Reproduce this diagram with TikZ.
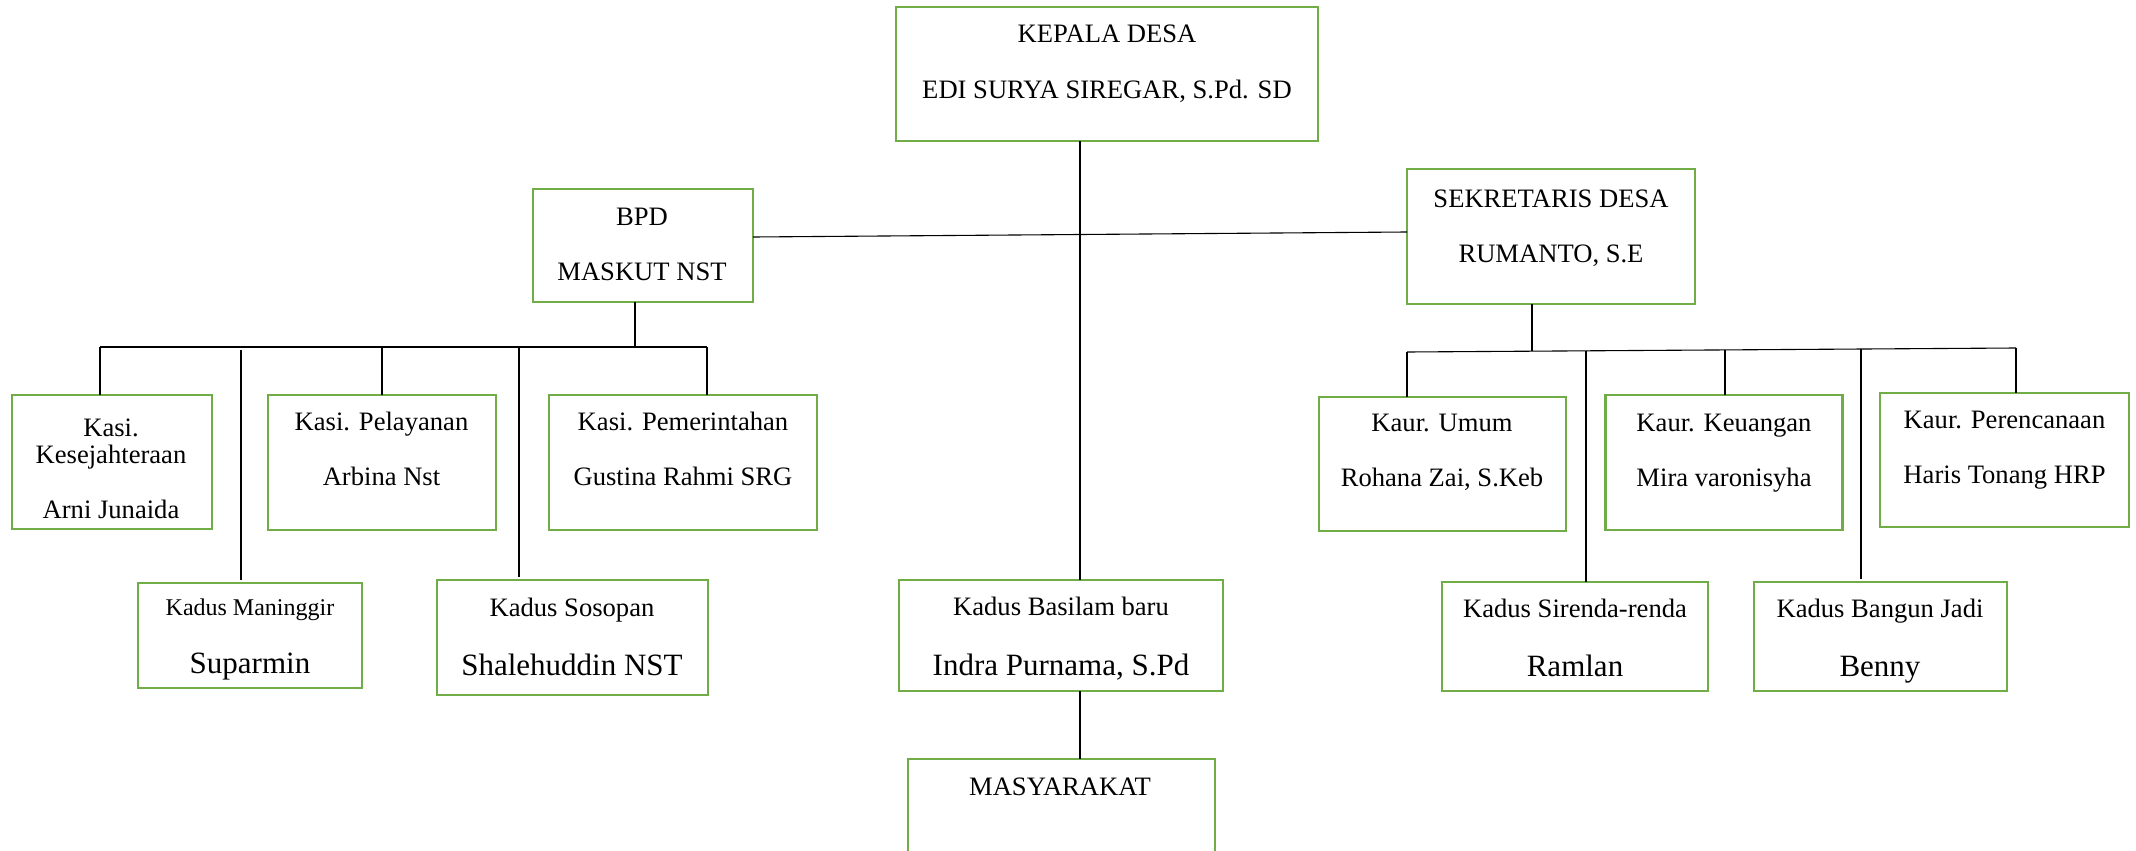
\documentclass[tikz,border=0pt]{standalone}
\usepackage{fontspec}
\setmainfont{Liberation Serif}
\definecolor{boxgreen}{HTML}{70AD47}
\begin{document}
\begin{tikzpicture}[x=1pt,y=-1pt,
  box/.style={draw=boxgreen, line width=2.7pt, inner sep=0pt, outer sep=0pt},
  tx/.style={anchor=base, inner sep=0pt, font=\fontsize{26.6pt}{32pt}\selectfont},
  txl/.style={anchor=base, inner sep=0pt, font=\fontsize{31pt}{37pt}\selectfont},
  txs/.style={anchor=base, inner sep=0pt, font=\fontsize{24pt}{29pt}\selectfont},
  conn/.style={draw=black, line width=1.1pt}]
\useasboundingbox (0,0) rectangle (2136,851);
\fill[white] (0,0) rectangle (2136,851);
\clip (0,0) rectangle (2136,851);

% boxes
\node[box, minimum width=422pt, minimum height=134pt] (kepala) at (1107,74) {};
\node[box, minimum width=220pt, minimum height=113pt] (bpd) at (643,245.5) {};
\node[box, minimum width=288pt, minimum height=135pt] (sek) at (1551,236.5) {};
\node[box, minimum width=200pt, minimum height=134pt] (kesej) at (112,462) {};
\node[box, minimum width=228pt, minimum height=135pt] (pelay) at (382,462.5) {};
\node[box, minimum width=268pt, minimum height=135pt] (pemer) at (683,462.5) {};
\node[box, minimum width=224pt, minimum height=105pt] (maning) at (250,635.5) {};
\node[box, minimum width=271pt, minimum height=115pt] (sosopan) at (572.5,637.5) {};
\node[box, minimum width=324pt, minimum height=111pt] (basilam) at (1061,635.5) {};
\node[box, minimum width=307pt, minimum height=141pt] (masy) at (1061.5,829.5) {};
\node[box, minimum width=247pt, minimum height=134pt] (umum) at (1442.5,464) {};
\node[box, minimum width=236.5pt, minimum height=135pt] (keuangan) at (1724,462.5) {};
\node[box, minimum width=249pt, minimum height=134pt] (perenc) at (2004.5,460) {};
\node[box, minimum width=266pt, minimum height=109pt] (sirenda) at (1575,636.5) {};
\node[box, minimum width=253pt, minimum height=109pt] (bangun) at (1880.5,636.5) {};

% texts
\node[tx] (kepalaA) at (1107,43) {KEPALA DESA};
\node[tx] (kepalaB) at (1107,98) {EDI SURYA SIREGAR, S.Pd. SD};
\node[tx] (bpdA) at (642,225) {BPD};
\node[tx] (bpdB) at (642,280) {MASKUT NST};
\node[tx] (sekA) at (1551,207) {SEKRETARIS DESA};
\node[tx] (sekB) at (1551,262) {RUMANTO, S.E};
\node[tx] (kesejA) at (111,436) {Kasi.};
\node[tx] (kesejB) at (111,463) {Kesejahteraan};
\node[tx] (kesejC) at (111,518) {Arni Junaida};
\node[tx] (pelayA) at (381.5,430) {Kasi. Pelayanan};
\node[tx] (pelayB) at (381.5,485.5) {Arbina Nst};
\node[tx] (pemerA) at (683,430) {Kasi. Pemerintahan};
\node[tx] (pemerB) at (683,485) {Gustina Rahmi SRG};
\node[txs] (maningA) at (250,615.5) {Kadus Maninggir};
\node[txl] (maningB) at (250,673.5) {Suparmin};
\node[tx] (sosopanA) at (572,616.5) {Kadus Sosopan};
\node[txl] (sosopanB) at (572,675.5) {Shalehuddin NST};
\node[tx] (basilamA) at (1061,615.5) {Kadus Basilam baru};
\node[txl] (basilamB) at (1061,675.5) {Indra Purnama, S.Pd};
\node[tx] (masyA) at (1060,795) {MASYARAKAT};
\node[tx] (umumA) at (1442,431) {Kaur. Umum};
\node[tx] (umumB) at (1442,486.5) {Rohana Zai, S.Keb};
\node[tx] (keuA) at (1724,431) {Kaur. Keuangan};
\node[tx] (keuB) at (1724,486.5) {Mira varonisyha};
\node[tx] (perA) at (2004.5,428) {Kaur. Perencanaan};
\node[tx] (perB) at (2004.5,483.5) {Haris Tonang HRP};
\node[tx] (sirA) at (1575,617.5) {Kadus Sirenda-renda};
\node[txl] (sirB) at (1575,676.5) {Ramlan};
\node[tx] (bangA) at (1880,617.5) {Kadus Bangun Jadi};
\node[txl] (bangB) at (1880,676.5) {Benny};

% junction coordinates
\coordinate (cx) at (1080,0);
\coordinate (bl) at (100,347);
\coordinate (bm) at (635,347);
\coordinate (br) at (707,347);
\coordinate (d1) at (241,350);
\coordinate (d2) at (519,347);
\coordinate (rl) at (1407,352);
\coordinate (rm) at (1532,351);
\coordinate (rr) at (2016,348);
\coordinate (d3) at (1586,351);
\coordinate (d4) at (1725,350);
\coordinate (d5) at (1861,349);

% connectors
\draw[conn] (kepala.south -| cx) -- (basilam.north -| cx);
\draw[conn] (basilam.south -| cx) -- (masy.north -| cx);
\draw[conn] ([yshift=8.5pt]bpd.east) -- ([yshift=4.5pt]sek.west);
\draw[conn] (bpd.south -| bm) -- (bm);
\draw[conn] (bl) -- (br);
\draw[conn] (bl) -- (kesej.north -| bl);
\draw[conn] (pelay.north |- bl) -- (pelay.north);
\draw[conn] (br) -- (pemer.north -| br);
\draw[conn] (d1) -- ([yshift=3pt]maning.north -| d1);
\draw[conn] (d2) -- ([yshift=3pt]sosopan.north -| d2);
\draw[conn] (sek.south -| rm) -- (rm);
\draw[conn] (rl) -- (rr);
\draw[conn] (rl) -- (umum.north -| rl);
\draw[conn] (d3) -- (sirenda.north -| d3);
\draw[conn] (d4) -- (keuangan.north -| d4);
\draw[conn] (d5) -- ([yshift=3pt]bangun.north -| d5);
\draw[conn] (rr) -- (perenc.north -| rr);
\end{tikzpicture}
\end{document}
